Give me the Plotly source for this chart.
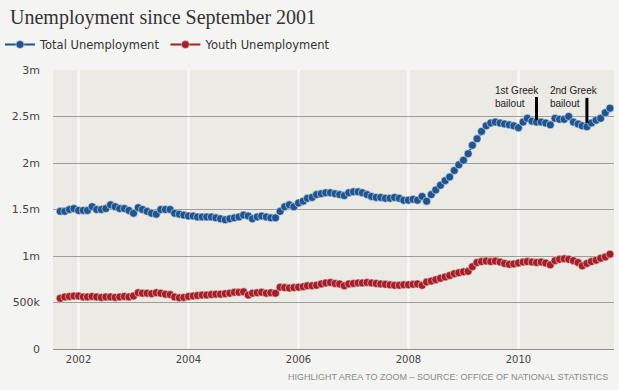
import pandas as pd
import plotly.graph_objects as go

months = pd.date_range("2001-09-01", periods=121, freq="MS")

total_unemployment = [
    1.48, 1.48, 1.50, 1.51, 1.49, 1.49, 1.49, 1.53, 1.50, 1.50,
    1.51, 1.55, 1.53, 1.51, 1.51, 1.49, 1.46, 1.52, 1.50, 1.48,
    1.46, 1.45, 1.50, 1.50, 1.50, 1.46, 1.45, 1.44, 1.43, 1.43,
    1.42, 1.42, 1.42, 1.42, 1.41, 1.40, 1.39, 1.40, 1.41, 1.42,
    1.44, 1.43, 1.40, 1.42, 1.43, 1.42, 1.41, 1.41, 1.48, 1.53,
    1.55, 1.53, 1.57, 1.59, 1.62, 1.63, 1.66, 1.67, 1.68, 1.68,
    1.67, 1.66, 1.65, 1.68, 1.69, 1.69, 1.68, 1.66, 1.64, 1.63,
    1.63, 1.62, 1.62, 1.63, 1.62, 1.60, 1.60, 1.61, 1.60, 1.64,
    1.59, 1.66, 1.71, 1.76, 1.81, 1.85, 1.92, 1.98, 2.03, 2.10,
    2.19, 2.26, 2.34, 2.40, 2.43, 2.44, 2.43, 2.42, 2.41, 2.40,
    2.38, 2.44, 2.48, 2.45, 2.44, 2.44, 2.43, 2.41, 2.48, 2.47,
    2.47, 2.50, 2.44, 2.42, 2.40, 2.39, 2.43, 2.46, 2.48, 2.54,
    2.59,
]

youth_unemployment = [
    0.545, 0.560, 0.565, 0.570, 0.570, 0.560, 0.560, 0.565, 0.560, 0.555,
    0.560, 0.560, 0.555, 0.560, 0.565, 0.560, 0.570, 0.605, 0.600, 0.600,
    0.595, 0.605, 0.600, 0.590, 0.585, 0.560, 0.550, 0.555, 0.565, 0.570,
    0.575, 0.580, 0.580, 0.585, 0.590, 0.590, 0.595, 0.600, 0.610, 0.610,
    0.615, 0.580, 0.600, 0.605, 0.610, 0.600, 0.605, 0.600, 0.665, 0.660,
    0.655, 0.660, 0.665, 0.670, 0.680, 0.680, 0.685, 0.700, 0.710, 0.715,
    0.705, 0.700, 0.680, 0.700, 0.705, 0.710, 0.710, 0.715, 0.710, 0.705,
    0.700, 0.695, 0.690, 0.685, 0.685, 0.690, 0.690, 0.695, 0.700, 0.685,
    0.720, 0.730, 0.745, 0.760, 0.775, 0.790, 0.810, 0.820, 0.830, 0.835,
    0.885, 0.930, 0.940, 0.945, 0.940, 0.945, 0.935, 0.920, 0.910, 0.915,
    0.925, 0.935, 0.940, 0.935, 0.930, 0.935, 0.925, 0.905, 0.950, 0.965,
    0.970, 0.965, 0.950, 0.930, 0.895, 0.920, 0.940, 0.955, 0.975, 0.990,
    1.020,
]

y_tick_values = [0, 0.5, 1, 1.5, 2, 2.5, 3]
y_tick_labels = ["0", "500k", "1m", "1.5m", "2m", "2.5m", "3m"]
x_tick_values = ["2002-01-01", "2004-01-01", "2006-01-01", "2008-01-01", "2010-01-01"]
x_tick_labels = ["2002", "2004", "2006", "2008", "2010"]

event_dates = ["2010-05-01", "2011-04-01"]
event_labels = ["1st Greek<br>bailout", "2nd Greek<br>bailout"]
event_line_bottom = [2.46, 2.43]
event_line_top = [2.71, 2.70]
event_label_shift = [-43, -39]

BLUE = "#1d5492"
RED = "#a51e28"

fig = go.Figure()
fig.add_trace(go.Scatter(
    x=months, y=total_unemployment, name="Total Unemployment",
    mode="lines+markers",
    line=dict(color=BLUE, width=2),
    marker=dict(color=BLUE, size=8, line=dict(color="rgba(235,234,229,0.8)", width=0.7)),
))
fig.add_trace(go.Scatter(
    x=months, y=youth_unemployment, name="Youth Unemployment",
    mode="lines+markers",
    line=dict(color=RED, width=2),
    marker=dict(color=RED, size=8, line=dict(color="rgba(235,234,229,0.8)", width=0.7)),
))

for d, lab, yb, yt, sh in zip(event_dates, event_labels, event_line_bottom, event_line_top, event_label_shift):
    fig.add_shape(type="line", x0=d, x1=d, y0=yb, y1=yt, xref="x", yref="y",
                  line=dict(color="black", width=3))
    fig.add_annotation(x=d, y=2.71, xref="x", yref="y", text=lab, showarrow=False,
                       xanchor="left", yanchor="middle", align="left", xshift=sh,
                       font=dict(family="Liberation Sans, Arial, sans-serif", size=10, color="#222"))

fig.add_annotation(
    text="HIGHLIGHT AREA TO ZOOM \u2013 SOURCE: OFFICE OF NATIONAL STATISTICS",
    xref="paper", yref="paper", x=1, y=0, xanchor="right", yanchor="middle",
    xshift=-4, yshift=-28, showarrow=False,
    font=dict(family="Liberation Sans Narrow, Liberation Sans, Arial, sans-serif", size=9, color="#8a8a8a"),
)

fig.update_layout(
    width=619, height=390,
    margin=dict(l=53, r=5, t=70, b=41),
    paper_bgcolor="#f4f4f2",
    plot_bgcolor="#ebeae5",
    title=dict(text="Unemployment since September 2001", x=10 / 619, xanchor="left",
               xref="container", y=1 - 17 / 390, yanchor="middle", yref="container",
               font=dict(family="Liberation Serif, serif", size=20, color="#333")),
    legend=dict(orientation="h", x=-12 / 619, xanchor="left", xref="container",
                y=1 - 30 / 390, yanchor="top", yref="container",
                font=dict(family="DejaVu Sans, sans-serif", size=11.5, color="#333"),
                itemwidth=30, bgcolor="rgba(0,0,0,0)", traceorder="normal"),
    font=dict(family="DejaVu Sans, sans-serif", color="#444"),
    showlegend=True,
    hovermode=False,
)

fig.update_xaxes(
    range=["2001-07-15", "2011-09-28"],
    tickvals=x_tick_values, ticktext=x_tick_labels,
    showgrid=True, gridcolor="#f6f6f4", gridwidth=3,
    showline=False, zeroline=False, ticks="", ticklabelstandoff=3,
    tickfont=dict(family="DejaVu Sans, sans-serif", size=10, color="#444"),
)
fig.update_yaxes(
    range=[0, 3],
    tickvals=y_tick_values, ticktext=y_tick_labels,
    showgrid=True, gridcolor="#9d9d9d", gridwidth=1,
    zeroline=True, zerolinecolor="#8f8f8f", zerolinewidth=1,
    showline=False, ticks="", ticklabelstandoff=12,
    tickfont=dict(family="DejaVu Sans, sans-serif", size=11, color="#444"),
)

fig.write_html(
    "out.html",
    config={"displayModeBar": False},
    post_script="document.body.style.margin='0';document.body.style.background='#f4f4f2';document.body.style.overflow='hidden';",
)
